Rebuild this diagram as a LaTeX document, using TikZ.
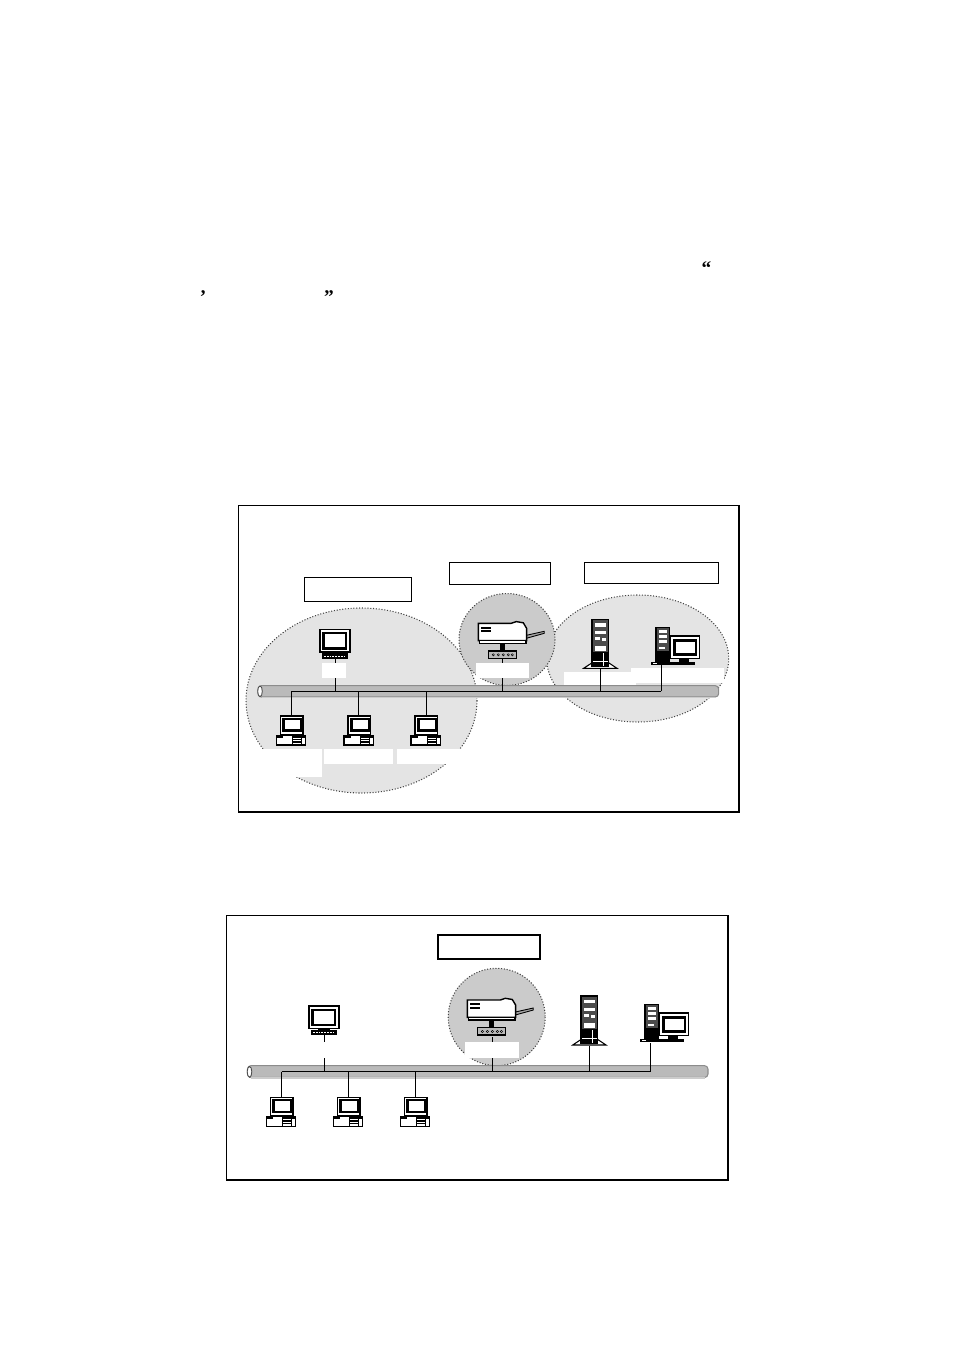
\documentclass[tikz,border=0pt]{standalone}
\usepackage{tikz}
\usepackage{fontspec}
\setmainfont{Liberation Serif}
\definecolor{lightzone}{HTML}{E4E4E4}
\definecolor{darkzone}{HTML}{CBCBCB}
\definecolor{busgray}{HTML}{BABABA}
\definecolor{dotgray}{HTML}{444444}
\tikzset{
  framebox/.style={draw=black, line width=0.5pt},
  labelbox/.style 2 args={draw=black, line width=0.6pt, inner sep=0pt,
    minimum width=#1*0.02cm, minimum height=#2*0.02cm},
  zone/.style={draw=dotgray, line width=0.6pt, densely dotted},
  wire/.style={draw=black, line width=0.6pt},
  quotemark/.style={inner sep=0pt, font=\bfseries\fontsize{11}{13}\selectfont},
  pics/monitorpc/.style={code={
    \draw[black, fill=white, line width=0.6pt] (0,0) rectangle (30,22.7);
    \fill[black] (2.3,2.5) rectangle (27.3,20.3);
    \fill[white] (4.7,5) rectangle (25,17.7);
    \fill[black] (9,22.7) rectangle (21,24);
    \fill[black] (1.7,24) rectangle (27.7,29.3);
    \draw[white, line width=0.5pt, dash pattern=on 1pt off 0.6pt] (4,26.7) -- (25,26.7);
  }},
  pics/deskpc/.style={code={
    \draw[black, fill=white, line width=0.6pt] (4,0) rectangle (26.7,18.7);
    \fill[black] (5.7,2) rectangle (25.7,16);
    \fill[white] (8.7,3.6) rectangle (23.5,13.4);
    \draw[black, fill=white, line width=0.7pt] (0,19.3) rectangle (29.3,29);
    \fill[black] (0,19.3) rectangle (7,21.5);
    \fill[black] (16,19.3) rectangle (29.3,21.5);
    \fill[black] (16,21.3) rectangle (16.8,29);
    \fill[black] (17,23) rectangle (25,24.3);
    \fill[black] (17,25.4) rectangle (25,26.6);
    \fill[black] (25,21) rectangle (25.8,29);
  }},
  pics/printerhub/.style={code={
    \draw[black, fill=gray!70, line width=0.5pt] (48,12) -- (66,8) -- (66,10) -- (48,15) -- cycle;
    \draw[black, fill=white, line width=0.8pt] (0,0) -- (33,0) -- (38,-1.7) -- (45,-0.5)
      -- (48.3,5) -- (48.3,17.3) -- (0,17.3) -- cycle;
    \draw[black, fill=white, line width=0.7pt] (1,17.3) rectangle (47.7,20);
    \fill[black] (3,3.3) rectangle (12.3,5.3);
    \fill[black] (3,6.7) rectangle (12.3,8.7);
    \fill[black] (21.7,20) rectangle (26.3,28);
    \draw[black, fill=gray!55, line width=0.8pt] (10,27.7) rectangle (38.3,35);
    \foreach \dotx in {15,20,25,30,34}
      \draw[black, fill=white, line width=0.3pt] (\dotx,31.5) circle (1.1);
  }},
  pics/towerpc/.style={code={
    \draw[black, fill=white, line width=0.6pt] (-8.3,49) -- (0,43.5) -- (16.7,43.5)
      -- (25,49) -- cycle;
    \draw[black, fill=black!70, line width=0.8pt] (0,0) rectangle (16.7,47);
    \foreach \barpos/\barh in {4/3.4,12/3,27/4.5}
      \fill[white] (3,\barpos) rectangle (14,\barpos+\barh);
    \fill[white] (3,18) rectangle (8,20.5);
    \fill[white] (10,19) rectangle (14,22);
    \fill[black] (0,33) rectangle (16.7,47);
    \draw[white, line width=0.3pt] (11,34) -- (11,47);
    \draw[white, line width=0.3pt] (1,42) -- (16,42);
  }},
  pics/workpc/.style={code={
    \fill[black] (-5.3,34.3) rectangle (39,37.7);
    \fill[white] (-3,35.3) rectangle (1,36.5);
    \draw[black, fill=black!70, line width=0.6pt] (0,0) rectangle (13.3,34.3);
    \foreach \barpos in {3,8,13}
      \fill[white] (2.5,\barpos) rectangle (10.5,\barpos+2.3);
    \fill[white] (2.5,20) rectangle (9,22);
    \fill[black] (0,24) rectangle (13.3,34.3);
    \draw[black, fill=white, line width=0.6pt] (14.7,8.7) rectangle (43.7,31);
    \fill[black] (17.3,12) rectangle (41,28.7);
    \fill[white] (19.5,14.3) rectangle (38.8,26);
    \fill[black] (23,31) rectangle (32.7,34.3);
  }},
}
\begin{document}
\begin{tikzpicture}[x=0.02cm, y=-0.02cm]
  \useasboundingbox (0,0) rectangle (954,1351);
  % stray quotation marks of the text above
  \node[quotemark] (openquote) at (706.5,268.5) {“};
  \node[quotemark] (comma) at (203,297) {’};
  \node[quotemark] (closequote) at (329,297) {”};

  % upper network
  \draw[framebox] (238,505) rectangle (739,812);
  \draw[line width=1.1pt] (238,812) -- (739,812) -- (739,505);
  \node[labelbox={107.4}{24}] (clientbox) at (358,589.3) {};
  \node[labelbox={101}{21.6}] (printbox) at (499.8,573.5) {};
  \node[labelbox={134}{20.6}] (serverbox) at (651.3,573) {};
  \path[zone, fill=lightzone] (361.5,700.5) ellipse (115.5 and 92.5);
  \path[zone, fill=lightzone] (637.7,658.5) ellipse (91 and 63.5);
  \path[zone, fill=darkzone] (507,639.5) ellipse (48 and 46);
  \draw[draw=gray!90, fill=busgray, line width=0.6pt, rounded corners=2pt] (258,685.6) rectangle (718.7,697);
  \draw[draw=gray!40, line width=0.8pt] (262,697.3) -- (716,697.3);
  \draw[black!70, fill=white, line width=0.5pt] (260,691.3) ellipse (2.3 and 5.4);
  \coordinate (upbusl) at (291.7,691.3);
  \coordinate (upbusr) at (661.3,691.3);
  \draw[wire] (upbusl) -- (upbusr);
  \foreach \dropx/\dropname in {335.3/mon, 502.3/hub}
    \coordinate (up\dropname) at (\dropx,691.3);
  \coordinate (upmontop) at (335.3,658);
  \coordinate (uphubtop) at (502.3,658);
  \draw[wire] (upmon) -- (upmontop);
  \draw[wire] (uphub) -- (uphubtop);
  \foreach \xa/\ya/\xb/\yb in {322/663/346/678, 240/748.7/322/776.7, 324/748.7/393/764,
      397/748.7/470/764, 476/663/529/677.7, 564/672/636/685, 631/668/724/683}
    \fill[white] (\xa,\ya) rectangle (\xb,\yb);
  \foreach \dropx in {291.7,358.3,426.3}
    \draw[wire] (\dropx,691.3) -- (\dropx,716);
  \draw[wire] (600.3,691.3) -- (600.3,668);
  \draw[wire] (upbusr) -- (661.3,663);
  \pic at (320,629.3) {monitorpc};
  \foreach \pcx in {276.3,344,411}
    \pic at (\pcx,716) {deskpc};
  \pic at (478.3,623.3) {printerhub};
  \pic at (592,619.3) {towerpc};
  \pic at (656,627.3) {workpc};

  % lower network
  \draw[framebox] (226.7,915) rectangle (728,1180);
  \draw[line width=1.1pt] (226.7,1180) -- (728,1180) -- (728,915);
  \node[labelbox={102}{24}, line width=1.1pt] (groupbox) at (489.3,947.3) {};
  \path[zone, fill=darkzone] (496.7,1017) ellipse (48.5 and 48.7);
  \draw[draw=gray!90, fill=busgray, line width=0.6pt, rounded corners=2pt] (247.5,1065.6) rectangle (708,1077.5);
  \draw[draw=gray!40, line width=0.8pt] (251,1077.8) -- (705,1077.8);
  \draw[black!70, fill=white, line width=0.5pt] (249.5,1071.8) ellipse (2.3 and 5.4);
  \coordinate (lowbusl) at (281.7,1071.8);
  \coordinate (lowbusr) at (650.3,1071.8);
  \draw[wire] (lowbusl) -- (lowbusr);
  \coordinate (lowmon) at (324.3,1071.8);
  \coordinate (lowmontop) at (324.3,1035);
  \coordinate (lowhub) at (492.3,1071.8);
  \coordinate (lowhubtop) at (492.3,1037);
  \draw[wire] (lowmon) -- (lowmontop);
  \draw[wire] (lowhub) -- (lowhubtop);
  \fill[white] (300,1041.7) rectangle (350,1058);
  \fill[white] (465,1042) rectangle (519,1057.7);
  \foreach \dropx in {281.7,348.3,415.3}
    \draw[wire] (\dropx,1071.8) -- (\dropx,1097);
  \draw[wire] (589.3,1071.8) -- (589.3,1046);
  \draw[wire] (lowbusr) -- (650.3,1042.7);
  \pic at (309,1006) {monitorpc};
  \foreach \pcx in {266.3,333.3,400.3}
    \pic at (\pcx,1097.3) {deskpc};
  \pic at (467.3,1000) {printerhub};
  \pic at (581,996) {towerpc};
  \pic at (645,1004.3) {workpc};
\end{tikzpicture}
\end{document}
